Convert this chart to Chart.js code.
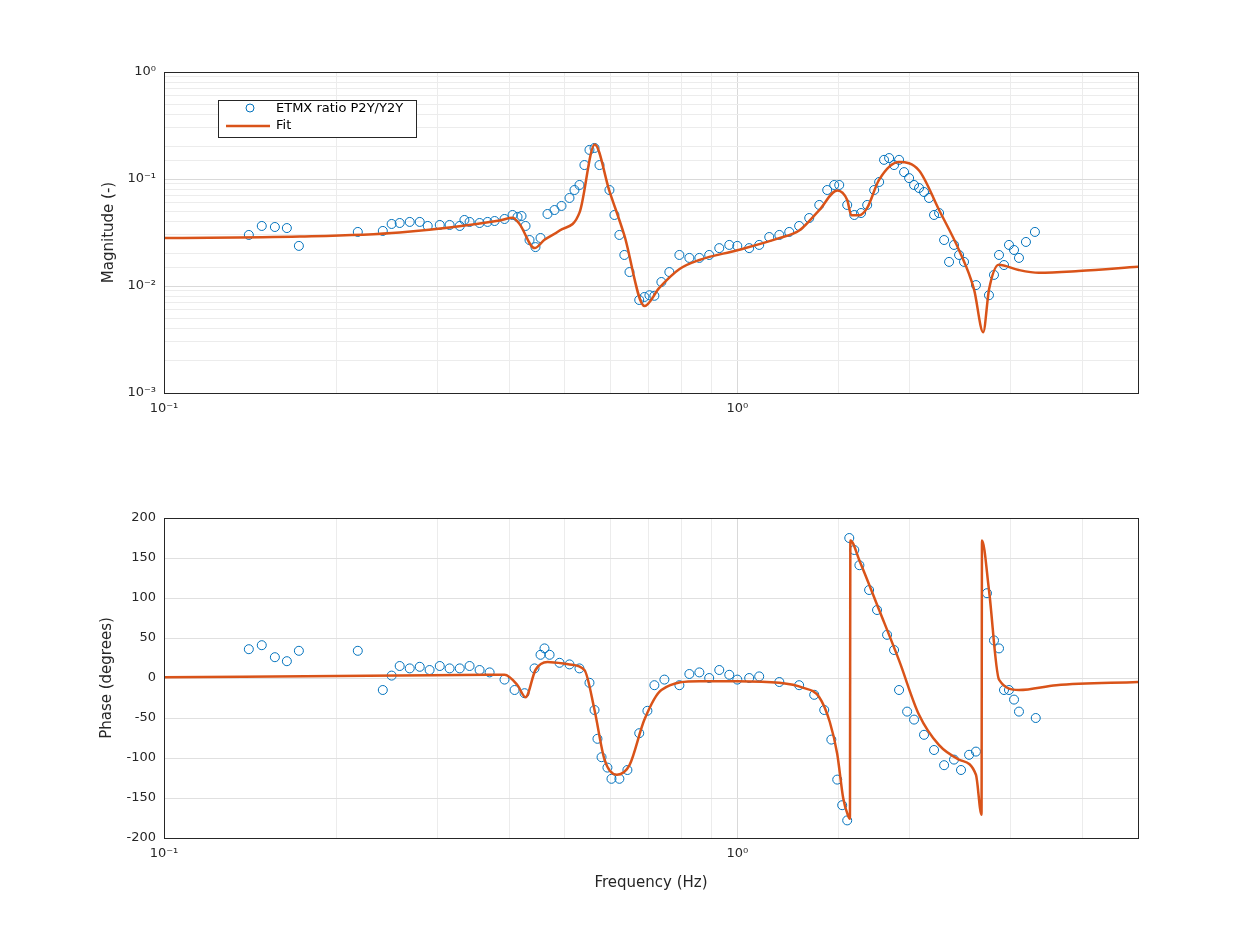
<!DOCTYPE html>
<html><head><meta charset="utf-8">
<script src="https://cdn.jsdelivr.net/npm/chart.js@4"></script>
<style>
body{margin:0;background:#fff;width:1260px;height:944px;position:relative;overflow:hidden}
#wrap1{position:absolute;left:0;top:0;width:1260px;height:423px}
#wrap2{position:absolute;left:0;top:446px;width:1260px;height:498px}
</style></head><body>
<div id="wrap1"><canvas id="mag"></canvas></div>
<div id="wrap2"><canvas id="pha"></canvas></div>
<script>
// measured magnitude points (Hz)
const measFreq = [0.1406,0.1481,0.1561,0.1638,0.1719,0.2178,0.2408,0.2495,0.2577,0.2683,0.2793,0.2884,0.3027,0.3149,0.328,0.3342,0.3412,0.3552,0.3668,0.3773,0.3926,0.4055,0.4137,0.4204,0.4272,0.4341,0.4446,0.4537,0.4666,0.4799,0.4936,0.5097,0.52,0.5305,0.5412,0.5523,0.5636,0.575,0.5984,0.6105,0.6228,0.6353,0.6486,0.6745,0.6887,0.7026,0.7168,0.7372,0.7612,0.7925,0.8249,0.8587,0.8933,0.9302,0.9683,1.0,1.049,1.092,1.137,1.184,1.232,1.282,1.335,1.39,1.435,1.476,1.506,1.555,1.600,1.644,1.685,1.733,1.768,1.803,1.840,1.877,1.915,1.954,1.994,2.034,2.075,2.117,2.160,2.204,2.249,2.295,2.341,2.388,2.437,2.486,2.608,2.748,2.804,2.861,2.919,2.978,3.039,3.100,3.188,3.305];
const measMag = [0.0300,0.0364,0.0356,0.0348,0.0237,0.0320,0.0327,0.0380,0.0388,0.0397,0.0397,0.0364,0.0372,0.0372,0.0364,0.0414,0.0397,0.0388,0.0397,0.0405,0.0423,0.0461,0.0442,0.0451,0.0364,0.0269,0.0231,0.0281,0.0471,0.0513,0.0560,0.0665,0.0789,0.0879,0.135,0.187,0.195,0.135,0.0789,0.0461,0.0300,0.0195,0.0135,0.0074,0.0079,0.0082,0.0081,0.0109,0.0135,0.0195,0.0183,0.0183,0.0195,0.0226,0.0242,0.0237,0.0226,0.0242,0.0287,0.0300,0.0320,0.0364,0.0432,0.0572,0.0789,0.0879,0.0879,0.0572,0.0461,0.0481,0.0572,0.0789,0.0938,0.151,0.157,0.135,0.151,0.116,0.102,0.0879,0.0824,0.0756,0.0665,0.0461,0.0481,0.0269,0.0168,0.0242,0.0195,0.0168,0.0102,0.0082,0.0127,0.0195,0.0157,0.0242,0.0217,0.0183,0.0258,0.0320];
// measured phase points
const phMeasFreq = [0.1406,0.1481,0.1561,0.1638,0.1719,0.2178,0.2408,0.2495,0.2577,0.2683,0.2793,0.2906,0.3027,0.3149,0.328,0.3412,0.3552,0.3698,0.3926,0.4088,0.4255,0.4429,0.4537,0.4610,0.4705,0.4897,0.5097,0.5305,0.5523,0.5636,0.5703,0.5797,0.5936,0.6033,0.6228,0.6432,0.6745,0.6970,0.7168,0.7462,0.7925,0.8249,0.8587,0.8933,0.9302,0.9683,1.0,1.049,1.092,1.184,1.282,1.362,1.418,1.459,1.494,1.524,1.555,1.568,1.600,1.633,1.698,1.753,1.825,1.877,1.915,1.978,2.034,2.117,2.204,2.295,2.388,2.456,2.537,2.608,2.726,2.804,2.861,2.919,2.978,3.039,3.100,3.316];
const phMeas = [36,41,26,21,34,34,-15,3,15,12,14,10,15,12,12,15,10,7,-2,-15,-19,12,29,37,29,19,17,12,-6,-40,-76,-99,-112,-126,-126,-115,-69,-41,-9,-2,-9,5,7,0,10,4,-2,0,2,-5,-9,-21,-40,-77,-127,-159,-178,175,160,141,110,85,54,35,-15,-42,-52,-71,-90,-109,-102,-115,-96,-92,106,47,37,-15,-15,-27,-42,-50];
// fit curve
const fitFreq = [0.1,0.1726,0.2577,0.385,0.4055,0.417,0.443,0.461,0.49,0.531,0.564,0.598,0.635,0.689,0.731,0.793,0.859,1.0,1.183,1.282,1.39,1.494,1.555,1.581,1.633,1.685,1.767,1.915,2.075,2.249,2.437,2.588,2.685,2.749,2.858,3.097,3.357,3.94,5.0];
const fitMag = [0.0281,0.0290,0.0317,0.0410,0.0434,0.0380,0.0226,0.0270,0.0330,0.0490,0.210,0.0780,0.0300,0.0065,0.0096,0.0144,0.0175,0.0216,0.0280,0.0330,0.0513,0.0780,0.0636,0.0459,0.0459,0.0537,0.0980,0.144,0.120,0.0513,0.0216,0.0093,0.0037,0.0093,0.0158,0.0141,0.0133,0.0138,0.0151];
const phFreq = [0.1,0.2577,0.3668,0.3926,0.4137,0.4272,0.4446,0.4666,0.5097,0.5412,0.5636,0.5867,0.6167,0.6486,0.6887,0.7372,0.8587,1.0,1.184,1.30,1.39,1.45,1.494,1.53,1.560,1.572,1.575,1.633,1.768,1.915,2.075,2.249,2.437,2.608,2.667,2.672,2.748,2.861,3.100,3.60,5.0];
const phFit = [1,3,4,4,-9,-24,10,20,17,10,-40,-102,-121,-109,-52,-15,-4,-4,-6,-12,-24,-55,-95,-150,-172,-176,172,147,85,22,-46,-84,-102,-121,-171,172,110,-2,-15,-9,-5];
// tick labels
const magTicks = {1:'10⁰',0.1:'10⁻¹',0.01:'10⁻²',0.001:'10⁻³'};
const freqTicks = {0.1:'10⁻¹',1:'10⁰'};

const font = {family:'DejaVu Sans', size:13};
Chart.defaults.font = font;
Chart.defaults.color = '#262626';
const isMajor = v => Math.abs(Math.log10(v) - Math.round(Math.log10(v))) < 1e-6;
const gridColor = ctx => ctx.tick && isMajor(ctx.tick.value) ? '#d9d9d9' : '#ececec';

const frame = {id:'frame', afterDraw(c){
  const a=c.chartArea, g=c.ctx; g.save(); g.strokeStyle='#262626'; g.lineWidth=1;
  g.strokeRect(a.left+0.5,a.top+0.5,a.right-a.left,a.bottom-a.top); g.restore();}};
const legendBox = {id:'legendBox', afterDraw(c){
  const g=c.ctx; g.save();
  g.fillStyle='#fff'; g.fillRect(218,100,198,37);
  g.strokeStyle='#262626'; g.lineWidth=1; g.strokeRect(218.5,100.5,198,37);
  g.strokeStyle='#0072BD'; g.beginPath(); g.arc(250,108,4,0,2*Math.PI); g.stroke();
  g.strokeStyle='#D95319'; g.lineWidth=2.5; g.beginPath(); g.moveTo(226,126); g.lineTo(270,126); g.stroke();
  g.fillStyle='#000'; g.font='13px DejaVu Sans'; g.textBaseline='middle';
  g.fillText('ETMX ratio P2Y/Y2Y',276,109); g.fillText('Fit',276,126);
  g.restore();}};

function xScale(h, title){
  return {type:'logarithmic', min:0.1, max:5,
    grid:{color:gridColor, drawTicks:false}, border:{display:false},
    ticks:{autoSkip:false, maxRotation:0, padding:8, callback:v=>freqTicks[v]||''},
    title: title ? {display:true, text:title, font:{family:'DejaVu Sans', size:15}, padding:{top:4,bottom:0}} : {display:false},
    afterFit:s=>{s.height=h;}};
}
function yTitle(text){
  return {display:true, text, font:{family:'DejaVu Sans', size:15}, padding:{top:0,bottom:0}};
}
function scatterDs(data){
  return {data, showLine:false, pointStyle:'circle', pointRadius:4.5, borderColor:'#0072BD',
    backgroundColor:'rgba(0,0,0,0)', pointBorderWidth:1, order:2};
}
function fitDs(data){
  return {data, borderColor:'#D95319', borderWidth:2.5, pointRadius:0,
    cubicInterpolationMode:'monotone', order:1};
}

new Chart(document.getElementById('mag'), {
  type:'line',
  data:{datasets:[
    scatterDs(measFreq.map((f,i)=>({x:f,y:measMag[i]}))),
    fitDs(fitFreq.map((f,i)=>({x:f,y:fitMag[i]})))]},
  options:{responsive:true, maintainAspectRatio:false, animation:false,
    layout:{padding:{left:100,top:72,right:122,bottom:0}},
    plugins:{legend:{display:false}, tooltip:{enabled:false}},
    scales:{
      x: xScale(30),
      y:{type:'logarithmic', min:0.001, max:1,
        grid:{color:gridColor, drawTicks:false}, border:{display:false},
        ticks:{autoSkip:false, padding:8, callback:v=>magTicks[v]||''},
        title: yTitle('Magnitude (-)'),
        afterFit:s=>{s.width=64;}}
    }},
  plugins:[frame, legendBox]
});

new Chart(document.getElementById('pha'), {
  type:'line',
  data:{datasets:[
    scatterDs(phMeasFreq.map((f,i)=>({x:f,y:phMeas[i]}))),
    fitDs(phFreq.map((f,i)=>({x:f,y:phFit[i]})))]},
  options:{responsive:true, maintainAspectRatio:false, animation:false,
    layout:{padding:{left:98,top:72,right:122,bottom:52}},
    plugins:{legend:{display:false}, tooltip:{enabled:false}},
    scales:{
      x: xScale(54, 'Frequency (Hz)'),
      y:{type:'linear', min:-200, max:200,
        grid:{color:'#e0e0e0', drawTicks:false}, border:{display:false},
        ticks:{stepSize:50, padding:8},
        title: yTitle('Phase (degrees)'),
        afterFit:s=>{s.width=66;}}
    }},
  plugins:[frame]
});
</script>
</body></html>
